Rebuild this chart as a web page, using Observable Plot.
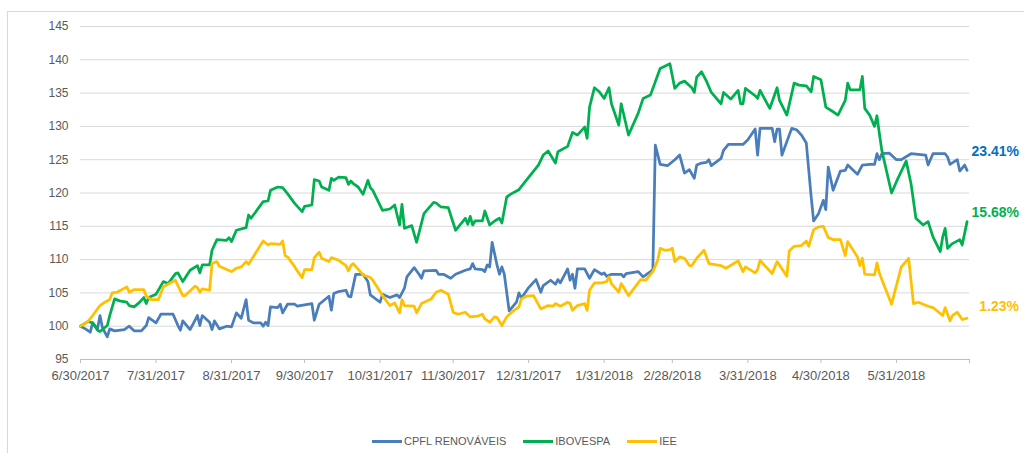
<!DOCTYPE html>
<html>
<head>
<meta charset="utf-8">
<script src="https://cdn.jsdelivr.net/npm/d3@7"></script>
<script src="https://cdn.jsdelivr.net/npm/@observablehq/plot@0.6"></script>
<style>
  html, body { margin: 0; padding: 0; background: #fff; }
  #wrap { position: relative; width: 1024px; height: 453px; overflow: hidden; font-family: "Liberation Sans", Arial, sans-serif; }
  #frame { position: absolute; left: 7px; top: 11px; width: 1100px; height: 500px; border: 1px solid #d9d9d9; box-sizing: border-box; }
  #chart { position: absolute; left: 0; top: 0; }
  #legend { position: absolute; left: 372px; top: 435px; display: flex; align-items: center; font-size: 11px; color: #595959; }
  #legend .item { display: flex; align-items: center; margin-right: 17px; }
  #legend .sw { width: 30px; height: 3px; margin-right: 2px; }
</style>
</head>
<body>
<div id="wrap">
  <div id="frame"></div>
  <div id="chart"></div>
  <div id="legend"></div>
</div>
<script>
const seriesNames = ["CPFL RENOVÁVEIS", "IBOVESPA", "IEE"];
const seriesColors = ["#4a7ebb", "#00b050", "#ffc000"];
const endLabels = ["23.41%", "15.68%", "1.23%"];
const labelColors = ["#0070c0", "#00b050", "#ffc000"];

const cpflDates = ["2017-06-30","2017-07-02","2017-07-04","2017-07-05","2017-07-07","2017-07-08","2017-07-09","2017-07-11","2017-07-12","2017-07-14","2017-07-18","2017-07-20","2017-07-22","2017-07-25","2017-07-27","2017-07-28","2017-07-31","2017-08-02","2017-08-07","2017-08-09","2017-08-10","2017-08-11","2017-08-14","2017-08-17","2017-08-18","2017-08-19","2017-08-22","2017-08-23","2017-08-24","2017-08-26","2017-08-29","2017-08-31","2017-09-02","2017-09-04","2017-09-06","2017-09-07","2017-09-09","2017-09-12","2017-09-13","2017-09-14","2017-09-15","2017-09-16","2017-09-19","2017-09-20","2017-09-21","2017-09-23","2017-09-26","2017-09-27","2017-10-03","2017-10-04","2017-10-06","2017-10-10","2017-10-11","2017-10-12","2017-10-14","2017-10-17","2017-10-18","2017-10-19","2017-10-21","2017-10-24","2017-10-26","2017-10-27","2017-10-31","2017-11-01","2017-11-04","2017-11-07","2017-11-08","2017-11-10","2017-11-11","2017-11-14","2017-11-16","2017-11-17","2017-11-18","2017-11-23","2017-11-24","2017-11-26","2017-11-29","2017-12-01","2017-12-05","2017-12-07","2017-12-08","2017-12-09","2017-12-12","2017-12-13","2017-12-14","2017-12-15","2017-12-16","2017-12-18","2017-12-19","2017-12-20","2017-12-21","2017-12-23","2017-12-26","2017-12-27","2017-12-28","2017-12-31","2018-01-03","2018-01-05","2018-01-06","2018-01-09","2018-01-11","2018-01-12","2018-01-13","2018-01-16","2018-01-17","2018-01-18","2018-01-19","2018-01-20","2018-01-23","2018-01-25","2018-01-27","2018-01-30","2018-01-31","2018-02-01","2018-02-03","2018-02-07","2018-02-08","2018-02-09","2018-02-14","2018-02-16","2018-02-19","2018-02-20","2018-02-21","2018-02-23","2018-02-26","2018-03-01","2018-03-03","2018-03-05","2018-03-07","2018-03-09","2018-03-10","2018-03-12","2018-03-14","2018-03-15","2018-03-16","2018-03-20","2018-03-21","2018-03-23","2018-03-29","2018-03-31","2018-04-03","2018-04-04","2018-04-05","2018-04-10","2018-04-11","2018-04-12","2018-04-13","2018-04-14","2018-04-18","2018-04-20","2018-04-22","2018-04-24","2018-04-26","2018-04-27","2018-04-29","2018-05-01","2018-05-02","2018-05-03","2018-05-05","2018-05-08","2018-05-10","2018-05-11","2018-05-15","2018-05-17","2018-05-20","2018-05-22","2018-05-23","2018-05-24","2018-05-25","2018-05-28","2018-05-31","2018-06-02","2018-06-06","2018-06-12","2018-06-13","2018-06-15","2018-06-20","2018-06-21","2018-06-22","2018-06-25","2018-06-26","2018-06-28","2018-06-29"];
const cpflValues = [100,99.6,99.1,100.5,99.6,101.6,99.8,98.4,99.6,99.3,99.5,100.0,99.3,99.3,100.1,101.3,100.5,101.8,101.8,100.1,99.4,100.8,99.5,101.6,100.1,101.6,100.6,99.5,100.8,99.6,100.0,99.9,102.0,101.2,104.0,100.9,100.5,100.5,100.0,100.6,100.1,102.9,102.8,103.3,102.0,103.3,103.3,103.0,103.4,100.9,103.3,104.5,102.4,104.9,105.2,105.4,104.5,104.4,107.8,107.8,106.7,104.7,103.6,104.8,104.3,104.7,104.3,105.7,107.4,108.8,107.8,107.2,108.3,108.4,107.8,107.8,107.2,107.8,108.4,108.6,109.4,108.6,108.5,108.2,109.2,108.9,112.6,109.2,107.8,108.9,107.8,102.3,103.6,105.0,104.2,105.8,107.0,105.1,106.1,106.9,106.3,107.0,106.5,108.6,106.9,107.8,105.7,108.6,108.6,107.2,108.5,107.8,108.0,107.5,107.8,107.8,107.4,107.9,108.2,107.4,108.2,108.5,127.2,124.3,124.1,125.0,125.7,123.0,123.5,122.2,124.2,124.5,124.6,125.0,124.1,125.2,126.4,127.3,127.3,128.0,129.6,125.7,129.7,129.7,127.7,129.6,129.6,125.7,129.7,129.5,128.7,127.5,119.4,115.8,116.9,118.9,117.5,123.9,120.4,123.3,123.4,124.2,122.8,124.2,124.3,124.3,125.9,125.0,125.9,126.0,125.0,125.0,125.9,125.7,124.2,125.9,125.9,125.4,124.3,125.0,123.3,124.2,123.4];

const iboDates = ["2017-06-30","2017-07-03","2017-07-05","2017-07-07","2017-07-08","2017-07-11","2017-07-12","2017-07-14","2017-07-16","2017-07-19","2017-07-20","2017-07-22","2017-07-24","2017-07-26","2017-07-27","2017-07-28","2017-07-31","2017-08-03","2017-08-05","2017-08-08","2017-08-09","2017-08-11","2017-08-14","2017-08-17","2017-08-18","2017-08-19","2017-08-22","2017-08-23","2017-08-25","2017-08-29","2017-08-30","2017-08-31","2017-09-02","2017-09-06","2017-09-07","2017-09-08","2017-09-13","2017-09-15","2017-09-16","2017-09-19","2017-09-21","2017-09-23","2017-09-26","2017-09-29","2017-09-30","2017-10-03","2017-10-04","2017-10-06","2017-10-07","2017-10-10","2017-10-11","2017-10-12","2017-10-14","2017-10-17","2017-10-18","2017-10-19","2017-10-20","2017-10-22","2017-10-24","2017-10-26","2017-10-27","2017-10-28","2017-11-01","2017-11-04","2017-11-06","2017-11-08","2017-11-09","2017-11-10","2017-11-13","2017-11-15","2017-11-18","2017-11-22","2017-11-23","2017-11-25","2017-11-28","2017-12-01","2017-12-05","2017-12-06","2017-12-07","2017-12-08","2017-12-09","2017-12-12","2017-12-13","2017-12-15","2017-12-17","2017-12-19","2017-12-20","2017-12-22","2017-12-24","2017-12-27","2017-12-30","2018-01-04","2018-01-06","2018-01-08","2018-01-11","2018-01-12","2018-01-16","2018-01-18","2018-01-20","2018-01-23","2018-01-24","2018-01-25","2018-01-27","2018-01-29","2018-01-31","2018-02-02","2018-02-03","2018-02-06","2018-02-07","2018-02-10","2018-02-14","2018-02-16","2018-02-19","2018-02-21","2018-02-23","2018-02-27","2018-03-01","2018-03-03","2018-03-05","2018-03-08","2018-03-09","2018-03-10","2018-03-12","2018-03-14","2018-03-16","2018-03-20","2018-03-21","2018-03-24","2018-03-27","2018-03-28","2018-03-29","2018-03-30","2018-04-03","2018-04-04","2018-04-05","2018-04-09","2018-04-12","2018-04-13","2018-04-16","2018-04-19","2018-04-21","2018-04-24","2018-04-26","2018-04-27","2018-04-30","2018-05-02","2018-05-05","2018-05-07","2018-05-10","2018-05-11","2018-05-12","2018-05-16","2018-05-17","2018-05-18","2018-05-20","2018-05-22","2018-05-23","2018-05-24","2018-05-25","2018-05-29","2018-05-31","2018-06-04","2018-06-06","2018-06-08","2018-06-11","2018-06-13","2018-06-15","2018-06-18","2018-06-19","2018-06-20","2018-06-21","2018-06-23","2018-06-26","2018-06-27","2018-06-29"];
const iboValues = [100,100.7,100.5,99.4,99.2,100.1,101.6,104.1,103.8,103.6,103.1,102.9,103.5,104.3,103.4,104.3,104.8,106.7,106.4,107.9,108.0,106.7,108.4,109.1,108.0,109.2,109.2,111.4,113.0,112.9,113.3,112.7,114.4,114.8,116.7,116.2,118.7,118.8,120.4,120.9,120.8,119.9,118.4,117.2,118.0,118.2,122.0,121.8,120.9,120.4,122.2,121.9,122.4,122.3,121.3,121.8,121.4,120.9,119.8,121.9,120.8,120.4,117.4,117.6,118.2,115.2,118.3,114.7,115.1,112.6,116.9,118.6,118.5,117.9,117.8,114.4,116.2,115.3,116.5,115.2,115.8,115.8,117.3,115.2,115.8,116.2,115.5,119.4,119.9,120.5,121.9,124.2,125.7,126.3,124.5,126.2,127.0,129.1,128.7,129.9,128.2,132.9,135.8,135.2,134.2,135.8,133.4,130.2,133.4,128.7,132.0,134.2,134.7,136.7,138.7,139.4,135.7,136.5,136.8,135.8,135.1,137.4,138.2,136.8,135.1,133.4,135.1,134.1,135.4,133.4,133.4,135.7,134.6,134.2,135.4,132.7,135.8,133.9,131.7,136.5,136.2,136.1,135.2,137.5,137.0,132.9,132.2,131.7,133.9,136.5,135.5,135.5,137.5,132.7,131.7,130.0,131.6,128.9,126.4,120.0,121.7,124.8,121.4,116.2,115.2,115.7,113.4,111.2,113.4,114.7,111.7,112.4,113.0,112.2,115.7];

const ieeDates = ["2017-06-30","2017-07-03","2017-07-05","2017-07-08","2017-07-10","2017-07-12","2017-07-13","2017-07-15","2017-07-19","2017-07-20","2017-07-22","2017-07-26","2017-07-27","2017-07-29","2017-08-01","2017-08-03","2017-08-07","2017-08-08","2017-08-09","2017-08-11","2017-08-12","2017-08-16","2017-08-17","2017-08-18","2017-08-19","2017-08-22","2017-08-23","2017-08-25","2017-08-26","2017-08-29","2017-08-31","2017-09-02","2017-09-04","2017-09-06","2017-09-07","2017-09-13","2017-09-15","2017-09-16","2017-09-20","2017-09-21","2017-09-22","2017-09-23","2017-09-26","2017-09-27","2017-09-29","2017-09-30","2017-10-03","2017-10-04","2017-10-06","2017-10-07","2017-10-10","2017-10-11","2017-10-14","2017-10-17","2017-10-18","2017-10-19","2017-10-20","2017-10-24","2017-10-27","2017-10-28","2017-11-01","2017-11-04","2017-11-06","2017-11-08","2017-11-09","2017-11-10","2017-11-14","2017-11-15","2017-11-17","2017-11-21","2017-11-23","2017-11-25","2017-11-28","2017-11-30","2017-12-02","2017-12-05","2017-12-07","2017-12-10","2017-12-12","2017-12-13","2017-12-15","2017-12-17","2017-12-18","2017-12-20","2017-12-22","2017-12-24","2017-12-27","2017-12-28","2017-12-30","2018-01-02","2018-01-05","2018-01-08","2018-01-10","2018-01-11","2018-01-13","2018-01-16","2018-01-17","2018-01-18","2018-01-20","2018-01-23","2018-01-24","2018-01-25","2018-01-27","2018-01-30","2018-02-01","2018-02-02","2018-02-03","2018-02-06","2018-02-07","2018-02-10","2018-02-15","2018-02-17","2018-02-20","2018-02-22","2018-02-23","2018-02-25","2018-02-27","2018-02-28","2018-03-01","2018-03-03","2018-03-05","2018-03-07","2018-03-08","2018-03-10","2018-03-13","2018-03-15","2018-03-20","2018-03-22","2018-03-27","2018-03-29","2018-03-30","2018-04-03","2018-04-04","2018-04-05","2018-04-10","2018-04-12","2018-04-16","2018-04-17","2018-04-19","2018-04-22","2018-04-24","2018-04-25","2018-04-27","2018-04-29","2018-05-01","2018-05-03","2018-05-05","2018-05-08","2018-05-10","2018-05-11","2018-05-15","2018-05-16","2018-05-17","2018-05-18","2018-05-22","2018-05-23","2018-05-24","2018-05-25","2018-05-29","2018-06-02","2018-06-05","2018-06-07","2018-06-09","2018-06-13","2018-06-15","2018-06-19","2018-06-20","2018-06-22","2018-06-23","2018-06-25","2018-06-27","2018-06-29"];
const ieeValues = [100,100.7,101.6,103.1,103.6,104.0,105.0,105.1,105.9,105.1,105.5,105.5,104.5,104.0,104.0,105.9,106.7,106.9,106.1,104.6,104.6,106.0,105.8,105.1,105.6,105.4,109.4,109.7,109.0,108.5,108.2,108.7,108.9,109.7,109.3,112.8,112.2,112.4,112.3,112.8,110.6,110.4,108.9,108.3,107.3,108.5,108.5,110.3,111.1,110.2,109.7,110.3,109.9,109.1,108.3,109.1,109.4,107.7,107.3,106.9,104.6,103.1,103.5,102.0,104.0,103.1,103.0,102.0,103.4,104.1,105.1,105.4,104.8,102.1,101.8,102.1,101.4,101.5,101.8,101.1,100.6,101.4,101.3,100.1,101.4,102.1,102.9,104.1,104.5,104.6,102.6,103.1,103.0,103.4,103.0,103.6,103.4,102.4,103.1,103.4,102.4,105.4,106.5,106.5,106.7,107.4,106.4,105.1,106.4,104.6,107.0,106.9,108.2,109.9,111.7,111.4,111.5,111.7,109.7,110.4,110.2,109.1,109.1,110.2,111.4,109.4,109.1,108.7,109.8,108.2,108.9,108.0,108.5,109.9,107.9,109.7,107.5,111.3,112.0,112.1,112.8,112.0,114.5,114.9,115.0,113.3,113.0,113.0,110.6,112.7,110.4,109.1,110.2,107.8,107.7,109.5,108.0,107.0,103.3,108.9,110.2,103.4,103.6,103.0,102.8,101.6,102.8,100.8,101.6,102.1,101.0,101.2];

const xDomain = ["2017-06-30", "2018-06-30"];
const xTickDates = ["2017-06-30","2017-07-31","2017-08-31","2017-09-30","2017-10-31","2017-11-30","2017-12-31","2018-01-31","2018-02-28","2018-03-31","2018-04-30","2018-05-31","2018-06-30"];
const xTickLabels = ["6/30/2017","7/31/2017","8/31/2017","9/30/2017","10/31/2017","11/30/2017","12/31/2017","1/31/2018","2/28/2018","3/31/2018","4/30/2018","5/31/2018",""];
const yTicks = [95,100,105,110,115,120,125,130,135,140,145];

const parse = s => new Date(s + "T00:00:00Z");
const allDates = [cpflDates, iboDates, ieeDates];
const allValues = [cpflValues, iboValues, ieeValues];
const rows = [];
seriesNames.forEach((name, i) => {
  allDates[i].forEach((d, j) => rows.push({series: name, date: parse(d), value: allValues[i][j]}));
});
const lastRows = seriesNames.map((name, i) => ({
  series: name,
  date: parse(allDates[i][allDates[i].length - 1]),
  value: allValues[i][allValues[i].length - 1],
  label: endLabels[i],
  color: labelColors[i]
}));
const labelOffsets = [-19, -9, -12];
const tickMap = new Map(xTickDates.map((d, i) => [parse(d).getTime(), xTickLabels[i]]));

const chart = Plot.plot({
  width: 1024,
  height: 420,
  marginLeft: 80,
  marginRight: 55,
  marginTop: 26,
  marginBottom: 61,
  style: {fontFamily: "'Liberation Sans', Arial, sans-serif", fontSize: "12px", color: "#595959", background: "transparent", overflow: "visible"},
  x: {type: "utc", domain: xDomain.map(parse)},
  y: {domain: [95, 145]},
  color: {domain: seriesNames, range: seriesColors},
  marks: [
    Plot.gridY(yTicks.filter(v => v > 95), {stroke: "#d9d9d9", strokeOpacity: 1, strokeWidth: 1}),
    Plot.ruleY([95], {stroke: "#bfbfbf", strokeWidth: 1}),
    Plot.axisY({ticks: yTicks, tickSize: 0, tickPadding: 12, label: null, fontSize: 12}),
    Plot.axisX({ticks: xTickDates.map(parse), tickFormat: d => tickMap.get(d.getTime()), tickSize: 4, tickPadding: 7, stroke: "#bfbfbf", label: null, fontSize: 13}),
    ...seriesNames.map((name, i) => Plot.line(rows.filter(r => r.series === name), {x: "date", y: "value", stroke: seriesColors[i], strokeWidth: 2.75, strokeLinejoin: "round", strokeLinecap: "round"})),
    ...lastRows.map((r, i) => Plot.text([r], {x: "date", y: "value", text: "label", fill: r.color, textAnchor: "end", dx: 52, dy: labelOffsets[i], fontWeight: "bold", fontSize: 14}))
  ]
});
document.getElementById("chart").appendChild(chart);

const legend = document.getElementById("legend");
seriesNames.forEach((name, i) => {
  const item = document.createElement("div");
  item.className = "item";
  const sw = document.createElement("div");
  sw.className = "sw";
  sw.style.background = seriesColors[i];
  const t = document.createElement("span");
  t.textContent = name;
  item.appendChild(sw);
  item.appendChild(t);
  legend.appendChild(item);
});
</script>
</body>
</html>
